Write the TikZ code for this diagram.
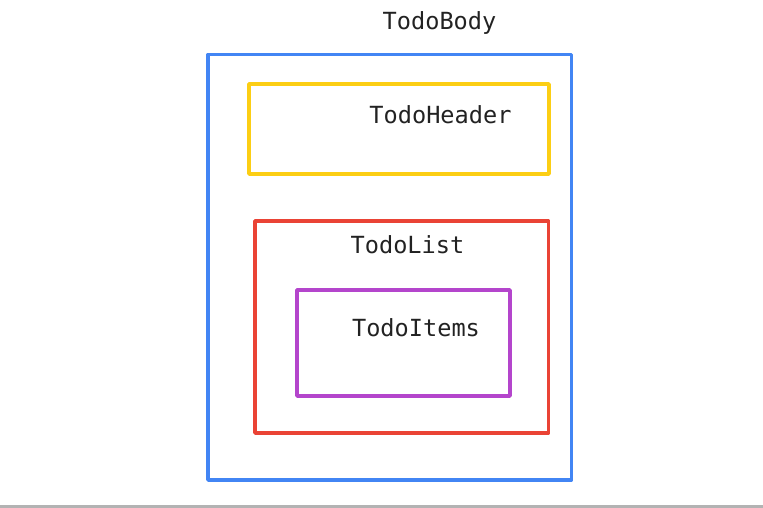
\documentclass[tikz,border=0pt]{standalone}
\usepackage{fontspec}
\setmonofont{DejaVu Sans Mono}
\definecolor{bodyblue}{HTML}{4285F4}
\definecolor{headeryellow}{HTML}{FCCE14}
\definecolor{listred}{HTML}{EA4335}
\definecolor{itempurple}{HTML}{B445CC}
\definecolor{labelgray}{HTML}{222222}
\definecolor{rulegray}{HTML}{B3B3B3}
\tikzset{
  compbox/.style={draw, line width=3.5pt, rectangle, inner sep=0pt, line join=round},
  complabel/.style={anchor=base, inner sep=0pt, text=labelgray,
    font=\ttfamily\fontsize{23.6}{28}\selectfont}
}
\begin{document}
\begin{tikzpicture}[x=1pt, y=1pt]
  \useasboundingbox (0,0) rectangle (763,508);

  % bottom rule
  \fill[rulegray] (0,0) rectangle (763,2.5);

  % component boxes
  \node[compbox, draw=bodyblue, minimum width=363.5pt, minimum height=425.5pt] (body) at (389.75,240.75) {};
  \node[compbox, draw=headeryellow, minimum width=300pt, minimum height=90pt] (header) at (399,379) {};
  \node[compbox, draw=listred, minimum width=293.5pt, minimum height=212pt] (list) at (401.75,181) {};
  \node[compbox, draw=itempurple, minimum width=213pt, minimum height=106pt] (items) at (403.5,165) {};

  % labels
  \node[complabel] (bodylabel) at (439.5,478) {TodoBody};
  \node[complabel] (headerlabel) at (440.5,384) {TodoHeader};
  \node[complabel] (listlabel) at (407.5,254) {TodoList};
  \node[complabel] (itemslabel) at (416,171.3) {TodoItems};
\end{tikzpicture}
\end{document}
